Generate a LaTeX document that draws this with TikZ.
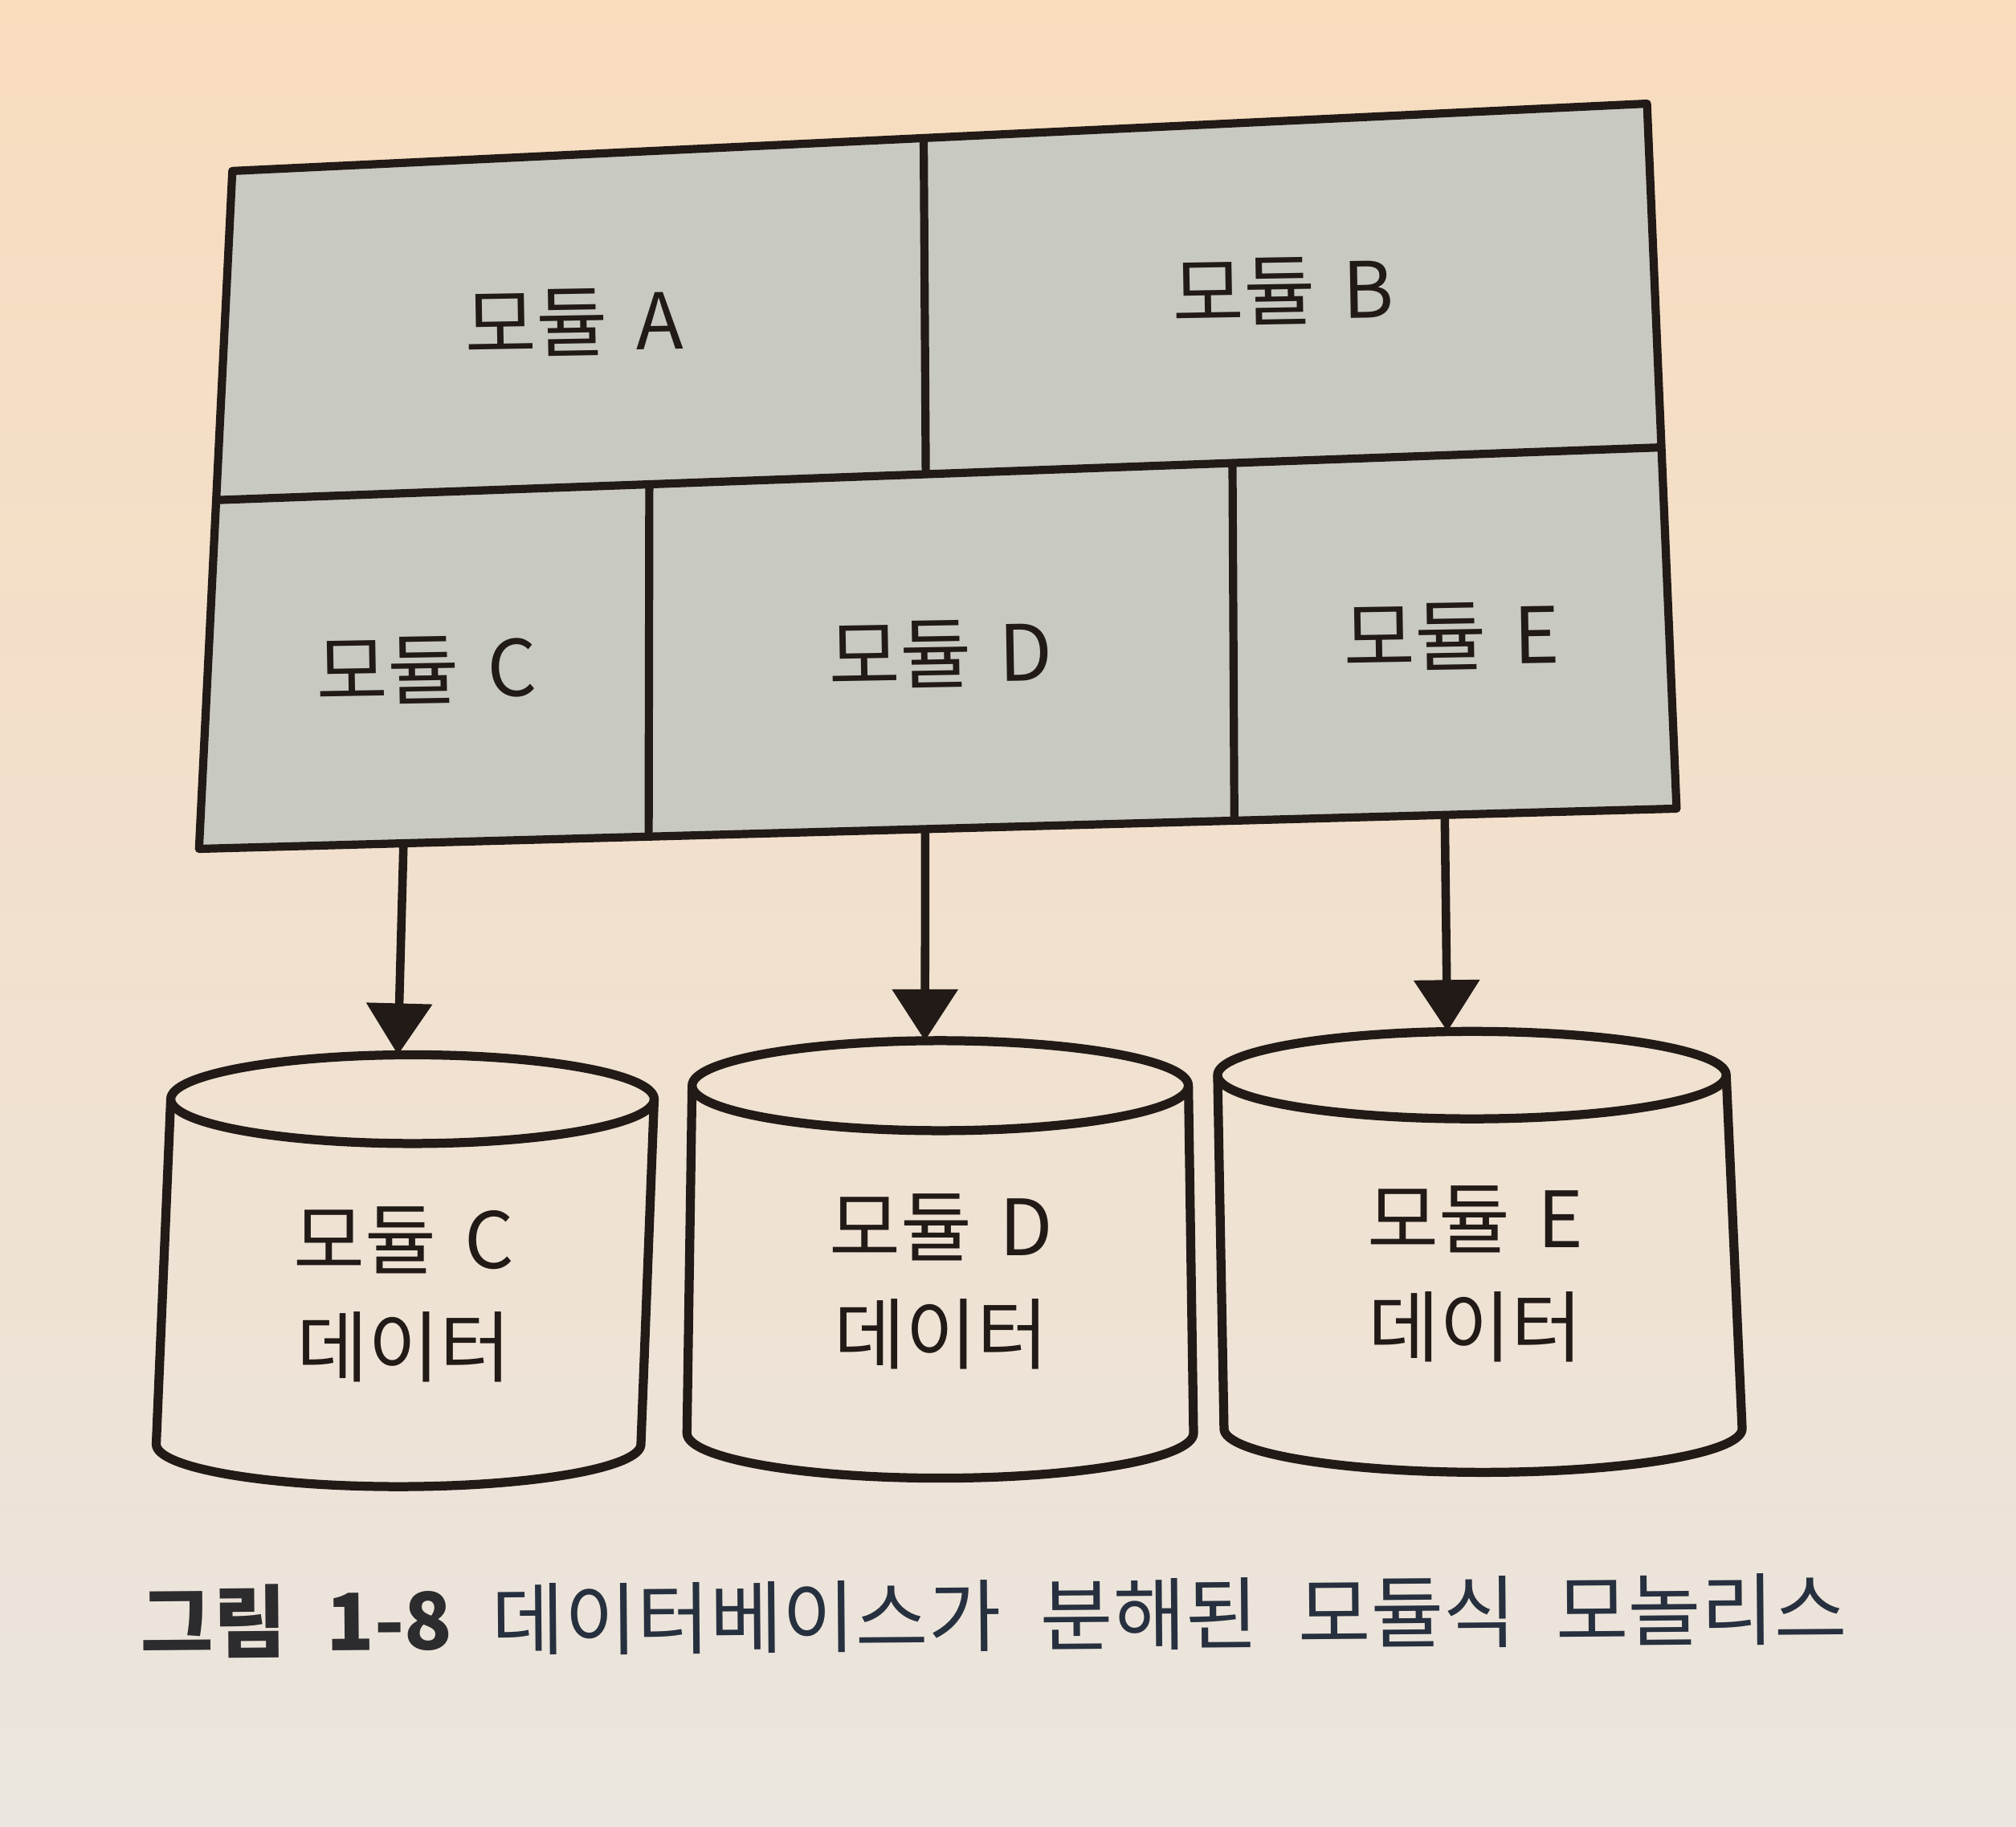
\documentclass[tikz,border=0pt]{standalone}
\usepackage{fontspec}
\setmainfont{Noto Sans CJK KR}
\usetikzlibrary{arrows.meta,calc}
\definecolor{pagetop}{HTML}{F8DCBE}
\definecolor{pagemid}{HTML}{F3E3D1}
\definecolor{pagebot}{HTML}{EAE5DE}
\definecolor{boxgray}{HTML}{C8CAC2}
\definecolor{ink}{HTML}{211A16}
\definecolor{capnavy}{HTML}{27303F}
\definecolor{capgray}{HTML}{2C2B2D}
\tikzset{
  boxline/.style={draw=ink, line width=2.9pt, line join=round},
  divline/.style={draw=ink, line width=2.9pt},
  cylline/.style={draw=ink, line width=3.2pt, line join=round},
  flow/.style={draw=ink, line width=3pt, -{Triangle[width=0.8cm,length=0.64cm]}},
  boxlabel/.style={text=ink, font={\fontsize{27.5}{32}\selectfont\spaceskip=0.36em\relax}, inner sep=0pt, rotate=1},
  cyllabel/.style={text=ink, font={\fontsize{27.5}{38.3}\selectfont\spaceskip=0.36em\relax}, align=center, inner sep=0pt},
  captext/.style={text=capnavy, font={\fontsize{28}{32}\selectfont\spaceskip=0.5em\relax}, inner sep=0pt, rotate=0.48},
}
\begin{document}
\begin{tikzpicture}[x={0.016008cm}, y={-0.016008cm}]
\useasboundingbox (0,0) rectangle (1568,1421);
\shade[top color=pagetop, middle color=pagemid, bottom color=pagebot] (0,0) rectangle (1568,1421);

% outer frame corners
\coordinate (TL) at (180.7,133);
\coordinate (TR) at (1281,80.6);
\coordinate (BR) at (1304,629);
\coordinate (BL) at (154.8,660.3);
\coordinate (ML) at ($(TL)!0.4855!(BL)$);
\coordinate (MR) at ($(TR)!0.4876!(BR)$);
\coordinate (ABt) at ($(TL)!0.4887!(TR)$);
\coordinate (ABb) at ($(ML)!0.491!(MR)$);
\coordinate (CDt) at ($(ML)!0.2997!(MR)$);
\coordinate (CDb) at ($(BL)!0.3043!(BR)$);
\coordinate (DEt) at ($(ML)!0.7032!(MR)$);
\coordinate (DEb) at ($(BL)!0.7007!(BR)$);
\coordinate (oC) at ($(BL)!0.1384!(BR)$);
\coordinate (oD) at ($(BL)!0.4915!(BR)$);
\coordinate (oE) at ($(BL)!0.8431!(BR)$);

\fill[boxgray] (TL) -- (TR) -- (BR) -- (BL) -- cycle;
\draw[divline] (ML) -- (MR);
\draw[divline] (ABt) -- (ABb);
\draw[divline] (CDt) -- (CDb);
\draw[divline] (DEt) -- (DEb);
\draw[boxline] (TL) -- (TR) -- (BR) -- (BL) -- cycle;

\node[boxlabel] (mA) at (446.5,251) {모듈 A};
\node[boxlabel] (mB) at (998,226.5) {모듈 B};
\node[boxlabel] (mC) at (332,521) {모듈 C};
\node[boxlabel] (mD) at (731.6,509) {모듈 D};
\node[boxlabel] (mE) at (1129,495) {모듈 E};

% cylinders
\draw[cylline] (132.8,855) -- (121.5,1123.4) arc[start angle=180, end angle=0, x radius=188.5, y radius=33] -- (508.8,855);
\draw[cylline] (320.8,855) ellipse [x radius=188, y radius=34.5];
\draw[cylline] (538.3,844.5) -- (534.3,1114.8) arc[start angle=180, end angle=0, x radius=197, y radius=35] -- (924.3,844.5);
\draw[cylline] (731.3,844.5) ellipse [x radius=193, y radius=35];
\draw[cylline] (947,836.3) -- (952,1111.3) arc[start angle=180, end angle=0, x radius=201.5, y radius=34] -- (1342.6,836.3);
\draw[cylline] (1144.8,836.3) ellipse [x radius=197.8, y radius=34];

\coordinate (tC) at (309.5,820.5);
\coordinate (tD) at (719.4,809.5);
\coordinate (tE) at (1125.7,802.3);

\draw[flow] (oC) -- (tC);
\draw[flow] (oD) -- (tD);
\draw[flow] (oE) -- (tE);

\node[cyllabel] (dC) at (314,1007) {모듈 C\\데이터};
\node[cyllabel] (dD) at (732,997) {모듈 D\\데이터};
\node[cyllabel] (dE) at (1147.5,991) {모듈 E\\데이터};

\node[captext] (cap) at (773,1256.5) {{\color{capgray}\bfseries 그림 1-8} 데이터베이스가 분해된 모듈식 모놀리스};
\end{tikzpicture}
\end{document}
